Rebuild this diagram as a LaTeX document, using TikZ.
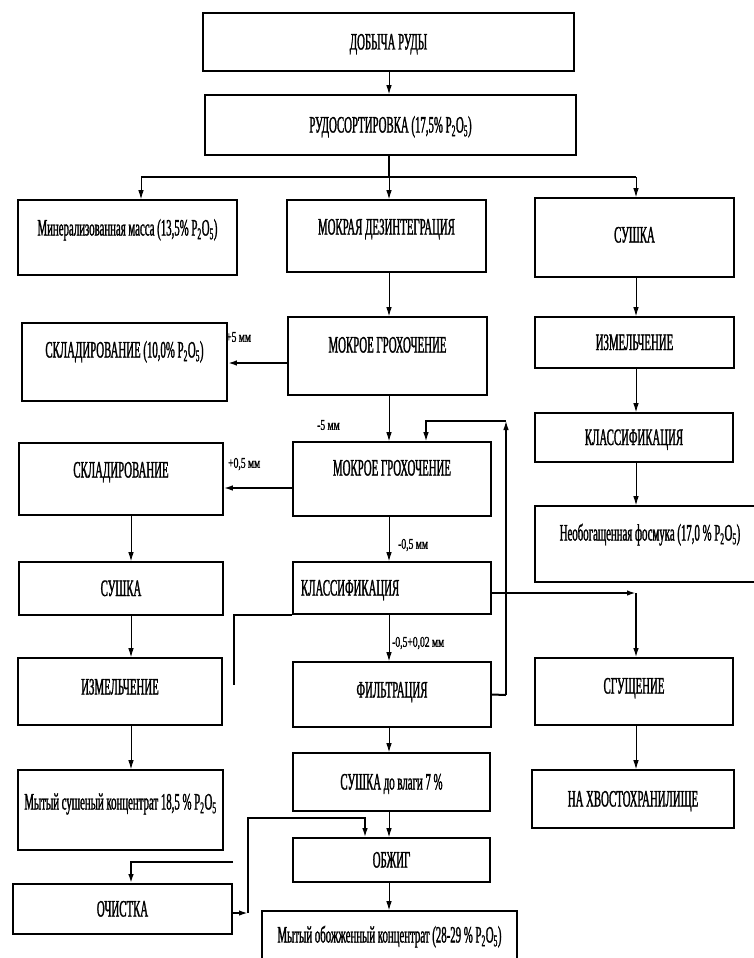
\documentclass[tikz,border=0pt]{standalone}
\usepackage{fontspec}
\setmainfont[FakeStretch=0.46,FakeBold=1.2]{Liberation Serif}
\newfontfamily\lblfont[FakeStretch=0.64,FakeBold=1]{Liberation Serif}
\usetikzlibrary{arrows.meta}
\newcommand{\pfive}{P\textsubscript{2}O\textsubscript{5}}
\begin{document}
\begin{tikzpicture}[x=1pt,y=-1pt,
    box/.style={draw, line width=1.6pt, inner sep=0pt, text height=15pt, text depth=0pt, font=\fontsize{23.5}{26}\selectfont},
    arr/.style={-{Latex[length=9pt,width=5.5pt]}, line width=0.9pt},
    thickarr/.style={arr, line width=2.4pt},
    lbl/.style={anchor=west, inner sep=0pt, font=\lblfont\fontsize{15}{17}\selectfont}]
      \useasboundingbox (0,0) rectangle (753,958);
      \fill[white] (0,0) rectangle (753,958);
      \node[box, minimum width=371pt, minimum height=58pt] (dob) at (388.5,42) {ДОБЫЧА РУДЫ};
      \node[box, minimum width=371pt, minimum height=60pt] (rud) at (390.5,125) {РУДОСОРТИРОВКА (17,5\% \pfive)};
      \node[box, minimum width=219pt, minimum height=75pt, text depth=19pt] (mineral) at (127.5,237.5) {Минерализованная масса (13,5\% \pfive)};
      \node[box, minimum width=199pt, minimum height=72pt, text depth=18pt] (dezint) at (386.5,236) {МОКРАЯ ДЕЗИНТЕГРАЦИЯ};
      \node[box, minimum width=199pt, minimum height=79pt, text depth=5pt] (sushR) at (634.5,237.5) {СУШКА};
      \node[box, minimum width=205pt, minimum height=78pt, text depth=24pt] (skladA) at (124.5,362) {СКЛАДИРОВАНИЕ (10,0\% \pfive)};
      \node[box, minimum width=199pt, minimum height=78pt, text depth=22pt] (grohA) at (387.5,356) {МОКРОЕ ГРОХОЧЕНИЕ};
      \node[box, minimum width=199pt, minimum height=51pt] (izmR) at (634.5,342.5) {ИЗМЕЛЬЧЕНИЕ};
      \node[box, minimum width=204pt, minimum height=72pt, text depth=18pt] (skladB) at (121,479) {СКЛАДИРОВАНИЕ};
      \node[box, minimum width=198pt, minimum height=74pt, text depth=22pt] (grohB) at (392,479) {МОКРОЕ ГРОХОЧЕНИЕ};
      \node[box, minimum width=198pt, minimum height=49pt] (klassR) at (634,437.5) {КЛАССИФИКАЦИЯ};
      \node[box, minimum width=230pt, minimum height=76pt, text depth=22pt] (neob) at (650,544) {Необогащенная фосмука (17,0 \% \pfive)};
      \node[box, minimum width=204pt, minimum height=53pt] (sushL) at (121,588.5) {СУШКА};
      \node[box, minimum width=198pt, minimum height=52pt, text width=182pt, align=left] (klassM) at (392,588) {КЛАССИФИКАЦИЯ};
      \node[box, minimum width=204pt, minimum height=67pt, text depth=9pt] (izmL) at (120,691.5) {ИЗМЕЛЬЧЕНИЕ};
      \node[box, minimum width=198pt, minimum height=65pt, text depth=9pt] (filtr) at (392,694.5) {ФИЛЬТРАЦИЯ};
      \node[box, minimum width=198pt, minimum height=67pt, text depth=11pt] (sgush) at (634,691.5) {СГУЩЕНИЕ};
      \node[box, minimum width=205pt, minimum height=80pt, text depth=16pt] (mytA) at (120.5,810) {Мытый сушеный концентрат 18,5 \% \pfive};
      \node[box, minimum width=197pt, minimum height=58pt] (sushM) at (391.5,782) {СУШКА до влаги 7 \%};
      \node[box, minimum width=202pt, minimum height=58pt] (hvost) at (633,799) {НА ХВОСТОХРАНИЛИЩЕ};
      \node[box, minimum width=197pt, minimum height=44pt] (obzhig) at (391.5,860) {ОБЖИГ};
      \node[box, minimum width=219pt, minimum height=50pt] (ochist) at (122.5,909) {ОЧИСТКА};
      \node[box, minimum width=255pt, minimum height=54pt, text depth=6pt] (mytB) at (389.5,938) {Мытый обожженный концентрат (28-29 \% \pfive)};
      \coordinate (colL) at (131,0);
      \coordinate (colMin) at (141,0);
      \coordinate (colM) at (389,0);
      \coordinate (colR) at (636,0);
      \coordinate (br) at (389,177);
      \draw[arr] (dob.south -| colM) -- (rud.north -| colM);
      \draw[line width=1.2pt] (rud.south -| colM) -- (br);
      \draw[line width=2pt] (br -| colMin) -- (br -| colR);
      \draw[arr] (br -| colMin) -- (mineral.north -| colMin);
      \draw[arr] (br) -- (dezint.north -| colM);
      \draw[arr] (br -| colR) -- (sushR.north -| colR);
      \draw[arr] (dezint.south -| colM) -- (grohA.north -| colM);
      \draw[thickarr] ([yshift=-7pt]grohA.west) -- ([yshift=-7pt]grohA.west -| skladA.east);
      \draw[arr] (grohA.south -| colM) -- (grohB.north -| colM);
      \draw[arr, line width=1.6pt] ([yshift=-9pt]grohB.west) -- ([yshift=-9pt]grohB.west -| skladB.east);
      \draw[arr] (grohB.south -| colM) -- (klassM.north -| colM);
      \draw[arr] (klassM.south -| colM) -- (filtr.north -| colM);
      \draw[arr] (filtr.south -| colM) -- (sushM.north -| colM);
      \draw[arr] (sushM.south -| colM) -- (obzhig.north -| colM);
      \draw[arr] (obzhig.south -| colM) -- (mytB.north -| colM);
      \draw[arr] (skladB.south -| colL) -- (sushL.north -| colL);
      \draw[arr] (sushL.south -| colL) -- (izmL.north -| colL);
      \draw[arr] (izmL.south -| colL) -- (mytA.north -| colL);
      \draw[arr] (sushR.south -| colR) -- (izmR.north -| colR);
      \draw[arr] (izmR.south -| colR) -- (klassR.north -| colR);
      \draw[arr] (klassR.south -| colR) -- (neob.north -| colR);
      \draw[arr] (sgush.south -| colR) -- (hvost.north -| colR);
      \coordinate (retB) at (506,695);
      \coordinate (retT) at (506,421);
      \coordinate (retL) at (426,421);
      \draw[line width=2pt] (filtr.east) -- (retB);
      \draw[arr, line width=1.2pt] (retB) -- (retT);
      \draw[arr, line width=1.2pt] (retT) -- (retL) -- (retL |- grohB.north);
      \coordinate (klR) at (636,593);
      \draw[thickarr] ([yshift=-5pt]klassM.east) -- (klR);
      \draw[arr, line width=1.4pt] (klR) -- (sgush.north -| klR);
      \coordinate (strA) at (234,685);
      \draw[line width=1.4pt] (klassM.south west) -| (strA);
      \coordinate (strB) at (233,862);
      \draw[arr, line width=1.8pt] (strB) -| (ochist.north -| colL);
      \coordinate (ochR) at (248,913);
      \coordinate (obzhL) at (365,818);
      \draw[arr, line width=1.8pt] ([yshift=-4pt]ochist.east) -- (ochR);
      \draw[arr, line width=1.6pt] (ochR) |- (obzhL) -- (obzhL |- obzhig.north);
      \node[lbl] (lblA) at (226,337) {+5 мм};
      \node[lbl] (lblB) at (317,425) {-5 мм};
      \node[lbl] (lblC) at (228,464) {+0,5 мм};
      \node[lbl] (lblD) at (398,545) {-0,5 мм};
      \node[lbl] (lblE) at (392,643) {-0,5+0,02 мм};
    \end{tikzpicture}
\end{document}
